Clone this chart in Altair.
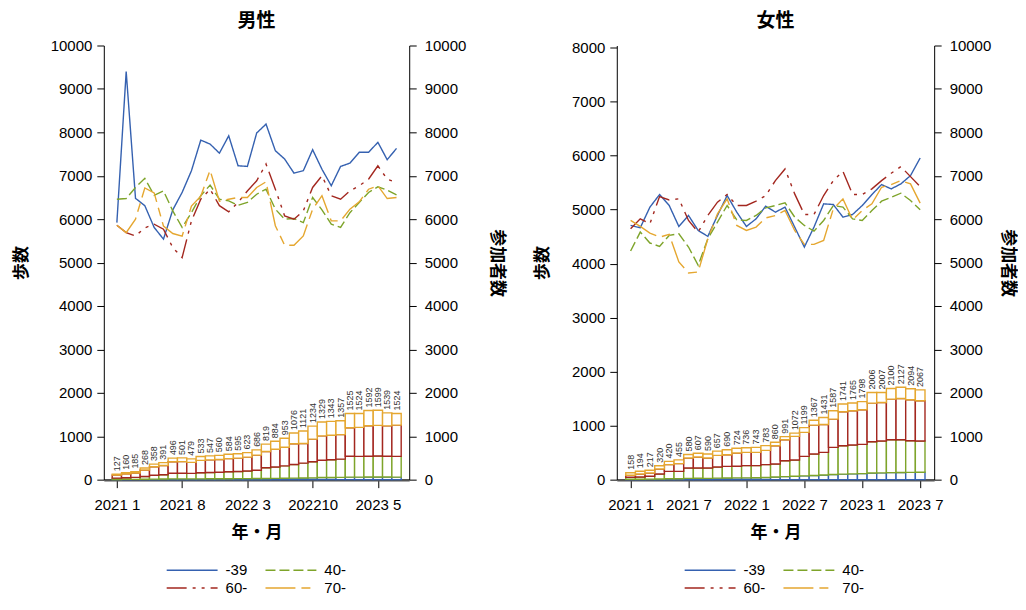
import json
import altair as alt
import pandas as pd

FONT = "Noto Sans CJK JP"
NUMFONT = "Liberation Sans"
GROUPS = ["-39", "40-", "60-", "70-"]
COLORS = ["#3561B0", "#7EA42A", "#A3271F", "#E5A730"]
DASHES = [[1, 0], [10, 4], [20, 6, 3, 6, 3, 6], [30, 6, 9, 6]]

# months Jan 2021 .. Jul 2023
years = [2021] * 12 + [2022] * 12 + [2023] * 7
mons = list(range(1, 13)) + list(range(1, 13)) + list(range(1, 8))
month_labels = [f"{y}{m:>2}" for y, m in zip(years, mons)]

# ---------------- 男性 ----------------
male_steps_m39 = [5920, 9400, 6480, 6310, 5810, 5540, 6215, 6615, 7115, 7820, 7730, 7520, 7920, 7230, 7215, 7985,
                  8190, 7577, 7385, 7060, 7115, 7600, 7150, 6770, 7215, 7290, 7540, 7540, 7770, 7370, 7630]
male_steps_40 = [6460, 6475, 6730, 6940, 6550, 6650, 6190, 5810, 6150, 6540, 6785, 6460, 6420, 6320, 6385, 6575,
                 6690, 6230, 6000, 6015, 5920, 6500, 6215, 5885, 5810, 6150, 6385, 6615, 6745, 6670, 6560]
male_steps_60 = [5860, 5690, 5615, 5800, 5885, 5770, 5345, 5115, 5960, 6460, 6690, 6310, 6170, 6385, 6650, 6885,
                 7270, 6690, 6075, 6000, 6190, 6730, 7000, 6540, 6460, 6650, 6770, 6920, 7230, 6920, 6845]
male_steps_70 = [5860, 5690, 6000, 6720, 6605, 5840, 5670, 5610, 6300, 6530, 7126, 6414, 6460, 6500, 6500, 6730,
                 6860, 5850, 5400, 5400, 5615, 6230, 6540, 5960, 5960, 6230, 6400, 6690, 6770, 6475, 6500]
male_total = [127, 160, 185, 268, 358, 391, 496, 501, 479, 533, 547, 560, 584, 595, 623, 686,
              819, 884, 953, 1076, 1121, 1234, 1329, 1343, 1357, 1525, 1524, 1592, 1599, 1539, 1524]
male_top_m39 = [5, 6, 7, 9, 12, 14, 18, 18, 17, 19, 20, 21, 22, 23, 24, 25,
                28, 30, 32, 35, 38, 42, 48, 50, 52, 58, 58, 60, 62, 60, 58]
male_top_40 = [35, 44, 52, 74, 102, 114, 148, 148, 145, 159, 165, 171, 182, 188, 199, 215,
               273, 290, 317, 350, 380, 412, 448, 460, 472, 540, 535, 540, 545, 540, 535]
male_top_60 = [105, 132, 153, 223, 298, 326, 412, 416, 399, 443, 455, 465, 484, 495, 518, 566,
               650, 699, 748, 826, 831, 934, 1009, 1023, 1037, 1195, 1204, 1240, 1249, 1239, 1256]

# ---------------- 女性 ----------------
female_steps_m39 = [4708, 4665, 5046, 5280, 5077, 4689, 4892, 4615, 4505, 4892, 5262, 4954, 4689, 4830, 5065, 4954,
                    5046, 4677, 4308, 4677, 5108, 5095, 4862, 4911, 5077, 5280, 5465, 5385, 5477, 5631, 5957]
female_steps_40 = [4234, 4585, 4382, 4320, 4523, 4554, 4308, 3969, 4461, 4769, 5077, 4812, 4800, 4892, 5034, 5077,
                   5126, 4862, 4708, 4603, 4800, 5077, 5046, 4830, 4800, 4985, 5157, 5230, 5305, 5169, 4997]
female_steps_60 = [4646, 4830, 4740, 5243, 5180, 5200, 4800, 4585, 4892, 5138, 5280, 5077, 5077, 5157, 5262, 5538,
                   5754, 5292, 4911, 4911, 5262, 5538, 5711, 5280, 5280, 5385, 5538, 5674, 5797, 5612, 5428]
female_steps_70 = [4800, 4689, 4566, 4492, 4541, 4031, 3828, 3846, 4461, 4923, 5200, 4708, 4615, 4677, 4846, 4892,
                   4985, 4615, 4357, 4357, 4431, 5015, 5200, 4812, 4985, 5108, 5415, 5465, 5538, 5477, 5120]
female_total = [158, 194, 217, 320, 420, 455, 580, 607, 590, 657, 690, 724, 736, 743, 783, 860,
                991, 1072, 1199, 1367, 1431, 1587, 1741, 1765, 1798, 2006, 2007, 2100, 2127, 2094, 2067]
female_top_m39 = [8, 10, 12, 15, 20, 22, 30, 31, 30, 34, 38, 40, 42, 44, 50, 60,
                  70, 78, 88, 96, 107, 118, 128, 132, 138, 153, 155, 162, 165, 168, 169]
female_top_40 = [54, 61, 77, 130, 190, 190, 268, 270, 268, 291, 306, 310, 322, 322, 345, 360,
                 437, 452, 536, 590, 628, 743, 782, 797, 812, 874, 889, 920, 920, 897, 889]
female_top_60 = [100, 130, 153, 245, 345, 368, 498, 521, 498, 559, 575, 613, 628, 628, 674, 782,
                 920, 996, 1088, 1257, 1272, 1395, 1563, 1586, 1609, 1762, 1778, 1854, 1870, 1839, 1816]

male_ticks = [0, 7, 14, 21, 28]
female_ticks = [0, 6, 12, 18, 24, 30]


def build_frames(steps, total, tops):
    n = len(total)
    lines = []
    for g, s in zip(GROUPS, steps):
        for i in range(n):
            lines.append({"idx": i, "group": g, "steps": s[i]})
    bounds = [[0] * n] + tops + [total]
    bars = []
    for k, g in enumerate(GROUPS):
        for i in range(n):
            bars.append({"x0": i - 0.5, "x1": i + 0.5, "group": g,
                         "lo": bounds[k][i], "hi": bounds[k + 1][i]})
    labels = [{"idx": i, "total": total[i]} for i in range(n)]
    return pd.DataFrame(lines), pd.DataFrame(bars), pd.DataFrame(labels)


def yaxis(orient, values, title, pad, lpad):
    return alt.Axis(orient=orient, values=values, title=title, format="d",
                    tickSize=7, labelPadding=lpad, labelFont=NUMFONT, labelFontSize=15,
                    labelColor="black",
                    titleFont=FONT, titleFontSize=17, titleFontWeight="bold",
                    titleColor="black", titlePadding=pad, grid=False,
                    domainColor="black", tickColor="black")


def panel(title, steps, total, tops, width, xdom, ticks, left_max, left_ticks, legend_x, rpad):
    lines_df, bars_df, labels_df = build_frames(steps, total, tops)
    label_expr = json.dumps(month_labels) + "[datum.value]"
    xaxis = alt.Axis(values=ticks, labelExpr=label_expr, title="年・月", tickSize=8,
                     domainWidth=2.5, domainColor="#555", tickColor="black",
                     labelFont=NUMFONT, labelFontSize=15, labelColor="black", labelPadding=10,
                     titleFont=FONT, titleFontSize=17, titleFontWeight="bold", titlePadding=12,
                     titleColor="black", grid=False, labelFlush=False)
    xscale = alt.Scale(domain=xdom, nice=False, zero=False)
    legend = alt.Legend(orient="none", legendX=legend_x, legendY=516, columns=2, title=None,
                        direction="horizontal",
                        symbolType="M-3,0H3", symbolSize=289, symbolStrokeWidth=1.5,
                        labelFont=NUMFONT, labelFontSize=15, labelColor="black",
                        columnPadding=15, rowPadding=0, labelOffset=24)
    stroke = alt.Stroke("group:N", scale=alt.Scale(domain=GROUPS, range=COLORS), legend=legend)
    dash = alt.StrokeDash("group:N", scale=alt.Scale(domain=GROUPS, range=DASHES), legend=legend)
    right_scale = alt.Scale(domain=[0, 10000], nice=False)

    bars = alt.Chart(bars_df).mark_rect(fill="white", fillOpacity=1, strokeWidth=1.4).encode(
        x=alt.X("x0:Q", scale=xscale, axis=xaxis),
        x2="x1:Q",
        y=alt.Y("lo:Q", scale=right_scale,
                axis=yaxis("right", list(range(0, 10001, 1000)), "参加者数", rpad, 8)),
        y2="hi:Q",
        stroke=stroke,
        strokeDash=dash,
    )
    text = alt.Chart(labels_df).mark_text(angle=270, align="left", baseline="middle", dx=3,
                                          fontSize=9, font=NUMFONT, color="#333").encode(
        x=alt.X("idx:Q", scale=xscale, axis=xaxis),
        y=alt.Y("total:Q", scale=right_scale, axis=None),
        text="total:Q",
    )
    lines = alt.Chart(lines_df).mark_line(strokeWidth=1.4).encode(
        x=alt.X("idx:Q", scale=xscale, axis=xaxis),
        y=alt.Y("steps:Q", scale=alt.Scale(domain=[0, left_max], nice=False),
                axis=yaxis("left", left_ticks, "歩数", 20, 5)),
        stroke=stroke,
        strokeDash=dash,
        order="idx:Q",
    )
    return alt.layer(lines, bars, text).resolve_scale(y="independent").properties(
        width=width, height=435,
        title=alt.Title(title, fontSize=19, fontWeight="bold", font=FONT, anchor="middle",
                        frame="group", offset=8, color="black"),
    )


male = panel("男性", [male_steps_m39, male_steps_40, male_steps_60, male_steps_70], male_total,
             [male_top_m39, male_top_40, male_top_60], 306, [-1.4, 31.36], male_ticks,
             10000, list(range(0, 10001, 1000)), 79, 22)
female = panel("女性", [female_steps_m39, female_steps_40, female_steps_60, female_steps_70], female_total,
               [female_top_m39, female_top_40, female_top_60], 318, [-1.43, 31.45], female_ticks,
               8040, list(range(0, 8001, 1000)), 84, 8)

chart = alt.hconcat(male, female, spacing=26).resolve_scale(
    stroke="independent", strokeDash="independent"
).resolve_legend(
    stroke="independent", strokeDash="independent"
).properties(
    padding={"left": 3, "top": 2, "right": 0, "bottom": 0}
).configure_view(stroke="transparent")

chart.save("out.html", embed_options={"renderer": "svg", "actions": False})
